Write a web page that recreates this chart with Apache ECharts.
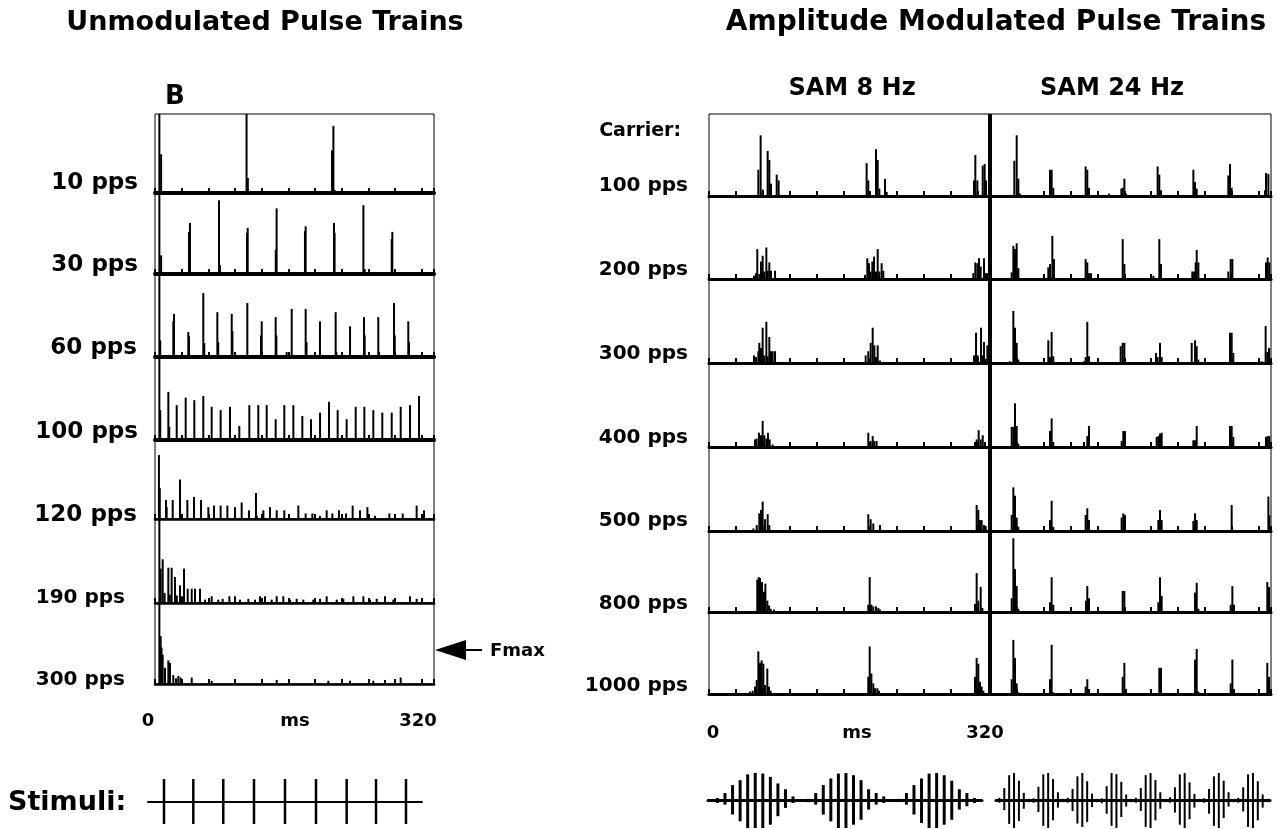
<!DOCTYPE html>
<html><head><meta charset="utf-8">
<script src="https://cdn.jsdelivr.net/npm/echarts@6/dist/echarts.min.js"></script>
<style>html,body{margin:0;padding:0;background:#fff}#c{width:1277px;height:829px}</style>
</head><body><div id="c"></div>
<script>
// ---------- DATA (time in ms, height in % of panel) ----------
const unmodLabels = ['10 pps','30 pps','60 pps','100 pps','120 pps','190 pps','300 pps'];
const amLabels = ['100 pps','200 pps','300 pps','400 pps','500 pps','800 pps','1000 pps'];
const axisTickLabels = ['0','ms','320'];

const unmod10 = [[5,100],[7,49],[105,100],[106.5,19],[203,54],[204.6,85],[206,4]];
const unmod30 = [[5,100],[7,23],[39,52],[40.1,63],[73.4,91],[74.5,11],[105.5,51],[106.3,57],[138.5,30],[139.5,81],[172,53],[172.8,59],[205.3,63],[206,51],[239,85],[240.5,6],[271.5,43],[272.2,52]];
const unmod60 = [[5,100],[6,20],[21,43],[21.8,52],[38.2,30],[39,25],[55.4,77],[56.5,17],[71.5,54],[72.5,18],[88,52],[88.8,31],[105.9,65],[121.6,26],[122.4,43],[138.4,48],[139.2,26],[151,6],[156.8,58],[172.8,58],[173.8,18],[189.2,43],[207.2,54],[208,6],[223.7,37],[239.7,48],[240.5,26],[256.1,48],[257,6],[274.1,65],[275,26],[290.5,43],[291.3,18]];
const unmod100 = [[5,100],[6,36],[15.3,58],[16.3,16],[24.9,42],[35.2,51],[45.1,48],[55.4,53],[65,40],[75.3,36],[86,40],[96.7,17],[108.2,42],[118.5,42],[128.1,42],[138.4,25],[148.3,42],[158.7,42],[169,29],[178.9,25],[189.3,33],[199.6,46],[209.5,36],[219.8,25],[230.2,40],[240.1,40],[250.4,36],[260.7,33],[271.5,33],[281.8,40],[292.5,42],[302.8,53]];
const unmod120 = [[4.5,81],[5.5,39],[12.6,24],[13.4,15],[20.3,24],[28.7,50],[37.1,24],[44.7,28],[52.8,24],[61.2,15],[67.7,17],[75.3,17],[83,17],[91.8,15],[99.4,21],[107.8,11],[115.8,33],[116.8,4],[124.3,11],[131.9,15],[139.6,11],[148.3,11],[164.4,17],[172.8,7],[180.5,7],[189.3,4],[196.9,11],[203.4,7],[211,11],[219.1,7],[226.7,17],[235.1,11],[243.6,15],[252.3,4],[268.8,7],[275.3,3],[284.1,7],[300.1,17],[308.5,11]];
const unmod190 = [[5,99],[6.5,41],[8.8,52],[11,12],[15.3,42],[17,10],[19.1,42],[22.9,31],[25,9],[28.7,21],[31,8],[33.3,41],[37.5,17],[42.1,17],[45.9,17],[51.6,17],[57.4,4],[65,8],[72.6,4],[77.6,5],[85.3,8],[91.8,8],[97.5,4],[107.1,5],[114.7,4],[120.4,8],[126.2,8],[133.8,4],[139.6,8],[147.2,8],[154.8,4],[162.5,5],[170.1,4],[181.6,4],[189.3,5],[196.9,8],[208.4,4],[216,5],[227.5,8],[239,8],[246.6,4],[254.3,5],[263.8,8],[273.4,4],[292.5,8],[300.1,5]];
const unmod300 = [[5,100],[6.5,59],[7.5,45],[8.8,36],[11.5,20],[15.3,29],[17.2,26],[21,11],[24.1,7],[26.8,10],[29.4,8],[42.1,8],[65,4],[139.6,5],[198.8,4],[223.7,4],[250.4,4],[263.8,5],[281.8,8]];

const am8 = [
  [[56.2,32],[58.8,74],[61.1,8],[66.8,55],[68.7,44],[70.6,15],[77.1,26],[79.3,19],[179.5,40],[181.4,19],[190.2,57],[192.1,44],[194,9],[200.4,21],[202.3,5],[301.8,19],[303.3,50],[305.6,19],[311.7,37],[313.9,39],[315.5,19]],
  [[51.2,4],[53.5,7],[55,36],[57.3,6],[59.2,21],[61.1,28],[63,9],[65.3,38],[66.8,10],[68.7,20],[70.6,10],[75.2,10],[177.7,5],[180.3,25],[182.2,19],[184.1,9],[186,21],[187.9,27],[190.2,9],[192.1,36],[194,9],[196.6,19],[198.5,10],[301,7],[303.3,20],[305.6,19],[307.5,25],[309.4,15],[313.2,25],[315.5,7],[317,7]],
  [[51.2,9],[53.5,7],[56.2,14],[57.3,24],[59.2,18],[61.1,42],[63,9],[65.3,49],[66.8,8],[68.7,31],[70.6,14],[72.5,14],[75.2,14],[178.4,9],[181.4,14],[184.1,24],[186.4,42],[188.3,21],[190.2,7],[192.1,21],[194.7,3],[301.8,9],[304.1,36],[306,9],[309.8,42],[311.7,9],[313.2,25],[315.1,5],[317,21]],
  [[52.4,9],[54.3,10],[56.9,17],[59.2,14],[61.1,31],[63,14],[65.3,10],[67.2,17],[69.1,9],[72.5,3],[181.4,17],[184.1,7],[186.4,13],[188.3,7],[190.9,7],[302.9,6],[304.8,9],[307.1,20],[309.4,9],[311.7,14],[314.3,6]],
  [[50.5,3],[54.3,7],[57.3,21],[59.2,25],[61.1,35],[63.8,14],[66.8,20],[68.7,7],[181.4,20],[184.1,14],[187.1,9],[194.7,7],[304.8,31],[306.7,25],[308.6,13],[310.5,13],[313.2,7],[315.1,6]],
  [[55,40],[56.6,43],[58.1,42],[60.4,37],[62.6,25],[64.2,35],[66.4,14],[68.3,8],[70.2,4],[74,3],[181.4,9],[183,43],[184.9,9],[187.1,7],[190.2,7],[192.8,5],[194.7,3],[302.9,10],[304.8,48],[306.7,14],[309.4,31],[311.3,5]],
  [[46.7,3],[49.7,4],[52.4,9],[54.3,17],[56.2,52],[58.1,38],[60,41],[61.9,37],[63.8,11],[66.4,31],[68.3,9],[70.2,4],[181.4,21],[183,58],[184.9,25],[187.1,13],[189,7],[191.7,7],[193.6,4],[302.9,21],[304.8,44],[306.7,37],[308.6,15],[310.5,9],[312.4,4]]
];
const am24 = [
  [[27.7,43],[30.4,74],[32.3,21],[34.2,3],[68.3,32],[70.2,32],[72.1,10],[108.9,36],[110.8,32],[112.7,10],[135.5,3],[149.6,9],[151.1,10],[153,21],[154.9,3],[190.9,36],[192.8,26],[194.7,7],[231.6,32],[233.5,17],[235.4,9],[271.4,25],[273.3,39],[275.2,10],[313.2,7],[314.3,28],[317,27]],
  [[24.7,8],[26.6,40],[28.5,36],[30.4,43],[32.3,13],[66.4,14],[68.3,18],[71,52],[72.9,24],[108.9,24],[110.8,20],[112.7,7],[115,7],[151.1,48],[153,18],[186,4],[192.8,48],[194.7,18],[230.4,9],[232.3,9],[234.2,20],[235.4,35],[237.3,20],[271.4,9],[274.1,24],[276,24],[314.3,20],[316.2,26],[318.1,20]],
  [[22.8,2],[26.6,62],[28.5,42],[30.4,24],[32.3,4],[66.4,27],[68.3,7],[70.2,37],[72.1,8],[107,2],[108.9,7],[110.8,49],[112.7,8],[148.8,20],[151.1,24],[153,24],[189,12],[190.9,7],[193.6,24],[195.5,7],[229.7,24],[233.5,27],[235.4,20],[237.3,4],[273.3,36],[275.2,36],[277.1,12],[309.4,2],[313.9,44],[315.8,13],[317.7,18]],
  [[24.7,24],[26.6,24],[28.5,52],[30.4,25],[32.3,4],[68.3,19],[70.2,34],[72.1,6],[107,6],[110.8,13],[112.7,25],[149.9,7],[151.8,19],[153.7,19],[189.8,12],[191.7,13],[193.6,16],[195.5,17],[231.6,8],[233.5,8],[235.4,25],[273.3,25],[275.2,25],[277.1,12],[314.3,12],[316.2,13],[318.1,13]],
  [[24.7,19],[26.6,52],[28.5,42],[30.4,16],[32.3,5],[68.3,13],[70.2,36],[72.1,5],[108.9,19],[110.8,27],[112.7,13],[149.9,16],[151.8,21],[153.7,19],[191.7,13],[193.6,25],[195.5,13],[231.6,12],[233.5,21],[235.4,13],[275.2,31],[317,41],[318.1,19]],
  [[24.7,17],[26.6,91],[28.5,53],[30.4,32],[32.3,4],[68.3,12],[70.2,43],[72.1,9],[109.3,14],[110.8,32],[112.7,17],[151.1,26],[153,26],[191.7,12],[193.6,43],[195.5,20],[233.5,24],[235.4,36],[237.3,4],[274.1,9],[276,32],[277.9,9],[315.8,37],[317.7,31]],
  [[24.7,18],[26.6,66],[28.5,44],[30.4,13],[32.3,2],[68.3,18],[70.2,60],[72.1,2],[108.9,9],[110.8,18],[112.7,6],[151.1,21],[153,38],[154.9,6],[192.8,32],[194.7,32],[233.5,42],[235.4,55],[237.3,3],[274.1,13],[276,42],[277.9,6],[315.8,38],[317.7,21]]
];

// stimuli
const stimUnmodPos = [18.7,52.9,87.9,123.8,160,196.2,232,266.3,301.3];
const stimUnmodUp  = [100,100,100,100,100,100,100,100,100];
const stimUnmodDn  = [100,100,100,100,100,100,100,100,100];
const stim8Pos = [0,1,2,3,4,5,6,7,8,9,10,11,12,13,14,15,16,17,18,19,20,21,22,23,24,25,26,27,28,29,30,31,32,33,34];
const stim8Up  = [9,27,56,74,95,100,98,86,62,41,15,5,6,27,56,80,98,100,92,74,41,27,15,5,6,27,56,80,98,100,92,72,41,27,9];
const stim8Dn  = [9,15,51,76,100,100,100,88,57,27,9,5,6,15,51,76,100,100,88,70,33,15,9,5,6,15,51,82,100,100,88,70,33,21,9];
const stim24Pos = [0,1,2,3,4,5,6,7,8,9,10,11,12,13,14,15,16,17,18,19,20,21,22,23,24,25,26,27,28,29,30,31,32,33,34,35,36,37,38,39,40,41,42,43,44,45,46,47,48,49,50,51,52,53,54,55];
const stim24Up = [10,45,92,100,72,28,6, 8,50,95,100,78,30,6, 10,42,88,100,70,25,6, 8,52,100,96,68,22,6, 10,45,92,100,75,30,6, 12,48,95,100,66,24,6, 8,42,88,100,72,30,6, 10,48,95,100,70,22,6];
const stim24Dn = [8,35,85,100,75,30,6, 8,42,92,100,72,26,6, 8,38,84,96,78,24,6, 10,48,92,100,60,22,6, 8,38,96,100,72,30,6, 8,44,88,100,68,26,6, 8,48,92,100,64,22,6, 8,40,96,100,72,26,6];

// ---------- LAYOUT ----------
const FONT = '"DejaVu Sans", "Liberation Sans", Arial, sans-serif';
const grids = [], xAxes = [], yAxes = [], series = [];
function addHist(left, top, width, height, data, baseW) {
  const i = grids.length;
  grids.push({left, top, width, height, show:true, borderColor:'#000', borderWidth:1, backgroundColor:'rgba(0,0,0,0)'});
  xAxes.push({gridIndex:i, type:'value', min:0, max:320, interval:30.6,
    axisLine:{show:true, onZero:false, lineStyle:{color:'#000', width:baseW}},
    axisTick:{show:true, inside:true, length:5, lineStyle:{color:'#000', width:2}},
    axisLabel:{show:false}, splitLine:{show:false}});
  yAxes.push({gridIndex:i, type:'value', min:0, max:100, show:false});
  series.push({type:'bar', xAxisIndex:i, yAxisIndex:i, data, barWidth:2, itemStyle:{color:'#000'}, silent:true});
}
function addStim(left, top, width, height, xmin, xmax, pos, up, dn, lw, bw) {
  const i = grids.length;
  grids.push({left, top, width, height, show:false});
  xAxes.push({gridIndex:i, type:'value', min:xmin, max:xmax,
    axisLine:{show:true, onZero:true, lineStyle:{color:'#000', width:lw}},
    axisTick:{show:false}, axisLabel:{show:false}, splitLine:{show:false}});
  yAxes.push({gridIndex:i, type:'value', min:-100, max:100, show:false});
  series.push({type:'bar', xAxisIndex:i, yAxisIndex:i, stack:'s'+i, data:pos.map((p,k)=>[p, up[k]]), barWidth:bw, itemStyle:{color:'#000'}, silent:true});
  series.push({type:'bar', xAxisIndex:i, yAxisIndex:i, stack:'s'+i, data:pos.map((p,k)=>[p, -dn[k]]), barWidth:bw, itemStyle:{color:'#000'}, silent:true});
}

const unmodSets = [unmod10, unmod30, unmod60, unmod100, unmod120, unmod190, unmod300];
const leftEdges = [114,193,274,357,440,519,603,684];
unmodSets.forEach((d,k)=>addHist(155, leftEdges[k], 279, leftEdges[k+1]-leftEdges[k], d, k<4?4:2.5));
const rightEdges = [114,196,279,363,447,531,612,694];
am8.forEach((d,k)=>addHist(709, rightEdges[k], 281, rightEdges[k+1]-rightEdges[k], d, 3));
am24.forEach((d,k)=>addHist(990, rightEdges[k], 281, rightEdges[k+1]-rightEdges[k], d, 3));

addStim(148, 779, 274, 45, 0, 320, stimUnmodPos, stimUnmodUp, stimUnmodDn, 2, 2.5);
addStim(708, 773, 274, 55, -1.25, 35, stim8Pos, stim8Up, stim8Dn, 3, 3);
addStim(996, 773, 274, 55, -0.7, 55.5, stim24Pos, stim24Up, stim24Dn, 3, 2);

// ---------- TEXT ----------
const g = [];
function txt(text, x, y, size, align) {
  g.push({type:'text', silent:true, style:{text, x, y, fill:'#000',
    font:'bold '+size+'px '+FONT, textAlign:align||'left', textVerticalAlign:'middle'}});
}
txt('Unmodulated Pulse Trains', 265, 23, 27, 'center');
txt('Amplitude Modulated Pulse Trains', 996, 23, 28, 'center');
txt('B', 175, 97, 26, 'center');
txt('SAM 8 Hz', 852, 89, 24, 'center');
txt('SAM 24 Hz', 1112, 89, 24, 'center');
txt('Carrier:', 681, 131, 19, 'right');
const leftLabelY = [183,265,348,432,515,598,680];
const leftLabelR = [138,138,137,138,137,125,125];
const leftLabelS = [23,23,23,23,23,20,20];
unmodLabels.forEach((t,k)=>txt(t, leftLabelR[k], leftLabelY[k], leftLabelS[k], 'right'));
const rightLabelY = [186,270,354,438,521,604,686];
amLabels.forEach((t,k)=>txt(t, 688, rightLabelY[k], 20, 'right'));
txt(axisTickLabels[0], 148, 721, 18, 'center');
txt(axisTickLabels[1], 295, 721, 18, 'center');
txt(axisTickLabels[2], 418, 721, 18, 'center');
txt(axisTickLabels[0], 713, 733, 18, 'center');
txt(axisTickLabels[1], 857, 733, 18, 'center');
txt(axisTickLabels[2], 985, 733, 18, 'center');
txt('Fmax', 490, 651, 18, 'left');
txt('Stimuli:', 8, 803, 27, 'left');
g.push({type:'polygon', silent:true, shape:{points:[[435,650],[466,640],[466,660]]}, style:{fill:'#000'}});
g.push({type:'line', silent:true, shape:{x1:465,y1:650,x2:482,y2:650}, style:{stroke:'#000', lineWidth:2}});
g.push({type:'line', silent:true, shape:{x1:990,y1:114,x2:990,y2:695}, style:{stroke:'#000', lineWidth:4}});

const chart = echarts.init(document.getElementById('c'), null, {renderer:'canvas'});
chart.setOption({animation:false, backgroundColor:'#fff', grid:grids, xAxis:xAxes, yAxis:yAxes, series, graphic:g});
</script></body></html>
